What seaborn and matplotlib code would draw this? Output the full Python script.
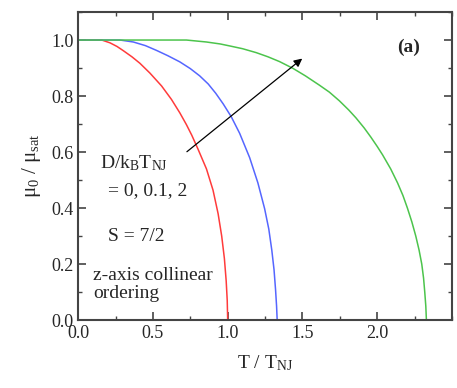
import matplotlib
matplotlib.use("Agg")
import matplotlib.pyplot as plt
import seaborn as sns
import pandas as pd
from matplotlib.ticker import MultipleLocator

# Data
red_T = [0.0, 0.158, 0.213, 0.26, 0.302, 0.36, 0.413, 0.48, 0.558, 0.624, 0.68, 0.724,
         0.76, 0.802, 0.858, 0.902, 0.936, 0.96, 0.978, 0.99, 0.997, 1.0]
red_m = [1.0, 1.0, 0.99, 0.977, 0.962, 0.94, 0.917, 0.882, 0.836, 0.788, 0.74, 0.698,
         0.66, 0.61, 0.54, 0.464, 0.38, 0.3, 0.22, 0.14, 0.07, 0.0]
blue_T = [0.0, 0.28, 0.369, 0.45, 0.524, 0.6, 0.68, 0.75, 0.813, 0.87, 0.92, 0.97,
          1.024, 1.08, 1.147, 1.202, 1.247, 1.275, 1.295, 1.31, 1.32, 1.327, 1.331]
blue_m = [1.0, 1.0, 0.993, 0.98, 0.963, 0.944, 0.922, 0.898, 0.872, 0.843, 0.81, 0.772,
          0.726, 0.667, 0.58, 0.49, 0.398, 0.325, 0.25, 0.18, 0.11, 0.05, 0.0]
green_T = [0.0, 0.724, 0.858, 0.95, 1.013, 1.1, 1.191, 1.27, 1.347, 1.436, 1.52, 1.613,
           1.68, 1.747, 1.81, 1.858, 1.913, 1.958, 2.0, 2.036, 2.09, 2.136, 2.172, 2.202,
           2.232, 2.258, 2.28, 2.298, 2.31, 2.318, 2.325, 2.329]
green_m = [1.0, 1.0, 0.993, 0.986, 0.979, 0.969, 0.955, 0.94, 0.923, 0.899, 0.872, 0.839,
           0.814, 0.783, 0.75, 0.722, 0.686, 0.653, 0.62, 0.59, 0.54, 0.49, 0.445, 0.4,
           0.35, 0.3, 0.25, 0.2, 0.15, 0.1, 0.05, 0.0]

series = ["D=0", "D=0.1", "D=2"]
colors = {"D=0": "#ff3b3b", "D=0.1": "#5566ff", "D=2": "#4cc44c"}

df = pd.concat([
    pd.DataFrame({"T": red_T, "m": red_m, "s": series[0]}),
    pd.DataFrame({"T": blue_T, "m": blue_m, "s": series[1]}),
    pd.DataFrame({"T": green_T, "m": green_m, "s": series[2]}),
], ignore_index=True)

sns.set_style("ticks")
plt.rcParams["font.family"] = ["Liberation Serif", "DejaVu Serif"]
plt.rcParams["mathtext.fontset"] = "custom"
plt.rcParams["mathtext.rm"] = "Liberation Serif"
plt.rcParams["mathtext.it"] = "Liberation Serif"

fig = plt.figure(figsize=(4.57, 3.88), dpi=100)
ax = fig.add_axes([0.171, 0.175, 0.818, 0.794])

sns.lineplot(data=df, x="T", y="m", hue="s", palette=colors, sort=False,
             estimator=None, linewidth=1.1, legend=False, ax=ax)

ax.set_xlim(0, 2.5)
ax.set_ylim(0, 1.1)
ax.xaxis.set_minor_locator(MultipleLocator(0.25))
ax.yaxis.set_minor_locator(MultipleLocator(0.1))
ax.set_xticks([0, 0.5, 1.0, 1.5, 2.0])
ax.set_xticklabels(["0.0", "0.5", "1.0", "1.5", "2.0"])
ax.set_yticks([0, 0.2, 0.4, 0.6, 0.8, 1.0])
ax.set_yticklabels(["0.0", "0.2", "0.4", "0.6", "0.8", "1.0"])
ax.tick_params(which="both", direction="in", top=True, right=True, labelsize=13,
               color="#444444")
ax.tick_params(which="major", length=6, width=1.2)
ax.tick_params(which="minor", length=3, width=1.0)
for sp in ax.spines.values():
    sp.set_linewidth(1.5)
    sp.set_color("#444444")

ax.set_xlabel(r"T / T$_{\rm NJ}$", fontsize=14, labelpad=8)
ax.set_ylabel(r"μ$_0$ / μ$_{\rm sat}$", fontsize=15, labelpad=6)

ax.annotate("", xy=(1.513, 0.94), xytext=(0.713, 0.595),
            arrowprops=dict(arrowstyle="-|>", color="black", lw=0.9,
                            mutation_scale=12))

ax.text(0.147, 0.56, r"D/k$_{\rm B}$T$_{\rm NJ}$", fontsize=14, va="center", ha="left")
ax.text(0.2, 0.464, "= 0, 0.1, 2", fontsize=14, va="center", ha="left")
ax.text(0.2, 0.30, "S = 7/2", fontsize=14, va="center", ha="left")
ax.text(0.1, 0.16, "z-axis collinear", fontsize=14, va="center", ha="left")
ax.text(0.1, 0.096, "ordering", fontsize=14, va="center", ha="left")
ax.text(2.21, 0.975, "(a)", fontsize=14, va="center", ha="center", fontweight="bold")

fig.savefig("out.png", dpi=100)
